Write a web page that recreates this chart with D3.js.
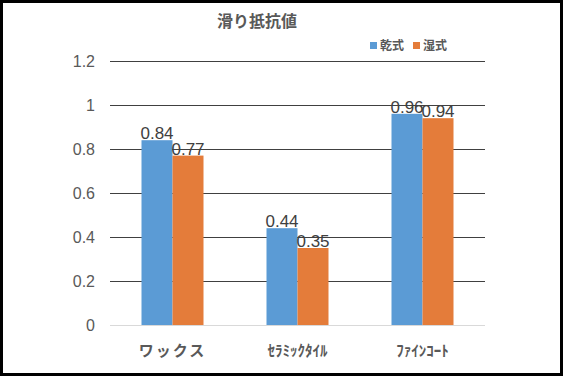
<!DOCTYPE html>
<html>
<head>
<meta charset="utf-8">
<script src="https://cdn.jsdelivr.net/npm/d3@7"></script>
<style>
  body { margin: 0; background: #fff; }
  svg text { font-family: "Liberation Sans", Arial, sans-serif; }
  .jp { font-family: "Noto Sans CJK JP", sans-serif; }
</style>
</head>
<body>
<div id="chart"></div>
<script>
// data
const categories = ['ワックス', 'ｾﾗﾐｯｸﾀｲﾙ', 'ﾌｧｲﾝｺｰﾄ'];
const seriesNames = ['乾式', '湿式'];
const dryValues = [0.84, 0.44, 0.96];
const wetValues = [0.77, 0.35, 0.94];
const yTicks = [0, 0.2, 0.4, 0.6, 0.8, 1, 1.2];
const colors = ['#5B9BD5', '#E47C3A'];

const width = 563, height = 376;
const margin = { left: 110, right: 78, top: 61, bottom: 51 };

const svg = d3.select('#chart').append('svg')
    .attr('width', width)
    .attr('height', height);

// frame
svg.append('rect')
    .attr('x', 1.5).attr('y', 1.5)
    .attr('width', width - 3).attr('height', height - 3)
    .attr('fill', '#fff')
    .attr('stroke', '#000')
    .attr('stroke-width', 3);

const x = d3.scaleBand()
    .domain(categories)
    .range([margin.left, width - margin.right]);

const y = d3.scaleLinear()
    .domain([0, 1.2])
    .range([height - margin.bottom, margin.top]);

const groupWidth = 62;
const xs = d3.scaleBand()
    .domain(seriesNames)
    .range([0, groupWidth]);

// gridlines
svg.append('g')
    .selectAll('line')
    .data(yTicks.filter(d => d > 0))
    .enter().append('line')
    .attr('x1', margin.left)
    .attr('x2', width - margin.right)
    .attr('y1', d => Math.round(y(d)) + 0.5)
    .attr('y2', d => Math.round(y(d)) + 0.5)
    .attr('stroke', '#404040')
    .attr('stroke-width', 1);

// y tick labels
svg.append('g')
    .selectAll('text')
    .data(yTicks)
    .enter().append('text')
    .attr('x', 95)
    .attr('y', d => y(d) + 6)
    .attr('text-anchor', 'end')
    .attr('font-size', 16)
    .attr('fill', '#595959')
    .text(d => d);

const series = [dryValues, wetValues];

// bars
const groups = svg.append('g')
    .selectAll('g')
    .data(categories)
    .enter().append('g')
    .attr('transform', d => `translate(${x(d) + (x.bandwidth() - groupWidth) / 2},0)`);

seriesNames.forEach((s, si) => {
    groups.append('rect')
        .attr('x', xs(s))
        .attr('width', xs.bandwidth())
        .attr('y', (d, i) => y(series[si][i]))
        .attr('height', (d, i) => y(0) - y(series[si][i]))
        .attr('fill', colors[si]);

    groups.append('text')
        .attr('x', xs(s) + xs.bandwidth() / 2)
        .attr('y', (d, i) => y(series[si][i]) - 1)
        .attr('text-anchor', 'middle')
        .attr('font-size', 17)
        .attr('fill', '#404040')
        .text((d, i) => series[si][i]);
});

// x axis line
svg.append('line')
    .attr('x1', margin.left)
    .attr('x2', width - margin.right)
    .attr('y1', y(0) + 0.5)
    .attr('y2', y(0) + 0.5)
    .attr('stroke', '#d9d9d9');

// category labels
svg.append('g')
    .selectAll('text')
    .data(categories)
    .enter().append('text')
    .attr('class', 'jp')
    .attr('x', d => x(d) + x.bandwidth() / 2)
    .attr('y', 356)
    .attr('text-anchor', 'middle')
    .attr('font-size', 15)
    .attr('font-weight', 'bold')
    .attr('letter-spacing', (d, i) => i === 0 ? 2 : 0)
    .attr('fill', '#595959')
    .text(d => d);

// title
svg.append('text')
    .attr('class', 'jp')
    .attr('x', 257)
    .attr('y', 27)
    .attr('text-anchor', 'middle')
    .attr('font-size', 16)
    .attr('font-weight', 'bold')
    .attr('fill', '#595959')
    .text('滑り抵抗値');

// legend
const legend = svg.append('g');
const legendX = [370, 413];
seriesNames.forEach((s, i) => {
    legend.append('rect')
        .attr('x', legendX[i])
        .attr('y', 42)
        .attr('width', 7)
        .attr('height', 7)
        .attr('fill', colors[i]);
    legend.append('text')
        .attr('class', 'jp')
        .attr('x', legendX[i] + 10)
        .attr('y', 50)
        .attr('font-size', 12)
        .attr('font-weight', 'bold')
        .attr('fill', '#595959')
        .text(s);
});
</script>
</body>
</html>
